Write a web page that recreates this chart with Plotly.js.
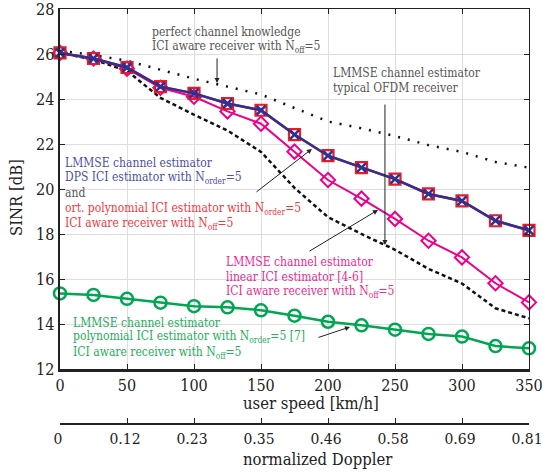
<!DOCTYPE html>
<html>
<head>
<meta charset="utf-8">
<script src="https://cdn.plot.ly/plotly-3.0.1.min.js"></script>
<style>html,body{margin:0;padding:0;background:#fff;}#chart{width:543px;height:472px;}</style>
</head>
<body>
<div id="chart"></div>
<script>
// ---- data ----
const speed = [0, 25, 50, 75, 100, 125, 150, 175, 200, 225, 250, 275, 300, 325, 350];
const perfectKnowledge = [26.15, 25.95, 25.7, 25.3, 24.9, 24.55, 24.2, 23.6, 23.0, 22.7, 22.35, 21.95, 21.65, 21.2, 20.95];
const typicalOFDM = [26.05, 25.75, 25.25, 24.05, 23.3, 22.6, 21.65, 20.05, 18.75, 18.0, 17.3, 16.45, 15.8, 14.7, 14.25];
const dpsICI = [26.05, 25.8, 25.4, 24.55, 24.25, 23.8, 23.5, 22.42, 21.48, 20.95, 20.44, 19.78, 19.47, 18.59, 18.16];
const ortPolyICI = [26.05, 25.8, 25.4, 24.55, 24.25, 23.8, 23.5, 22.42, 21.48, 20.95, 20.44, 19.78, 19.47, 18.59, 18.16];
const linearICI = [26.05, 25.8, 25.35, 24.5, 24.1, 23.45, 22.9, 21.66, 20.4, 19.57, 18.67, 17.7, 16.96, 15.81, 14.96];
const polyICI = [15.36, 15.29, 15.12, 14.95, 14.79, 14.74, 14.61, 14.37, 14.1, 13.94, 13.75, 13.56, 13.44, 13.02, 12.92];
const speedTicks = [0, 50, 100, 150, 200, 250, 300, 350];
const dopplerTickText = ['0', '0.12', '0.23', '0.35', '0.46', '0.58', '0.69', '0.81'];
const sinrTicks = [12, 14, 16, 18, 20, 22, 24, 26, 28];

const FONT = 'DejaVu Serif Condensed, DejaVu Serif';
const BLUE = '#2e3192', RED = '#ed1c24', MAG = '#ec008c', GREEN = '#00a651';

const traces = [
  {x: speed, y: perfectKnowledge, mode: 'lines', line: {color: '#111', width: 2.5, dash: '2px,8px'}, cliponaxis: false},
  {x: speed, y: typicalOFDM, mode: 'lines', line: {color: '#111', width: 2.5, dash: '4px,3px'}, cliponaxis: false},
  {x: speed, y: polyICI, mode: 'lines+markers', line: {color: GREEN, width: 2.5},
   marker: {symbol: 'circle-open', size: 12, color: GREEN, line: {width: 2.5, color: GREEN}}, cliponaxis: false},
  {x: speed, y: linearICI, mode: 'lines+markers', line: {color: MAG, width: 2},
   marker: {symbol: 'diamond-open', size: 11, color: MAG, line: {width: 2, color: MAG}}, cliponaxis: false},
  {x: speed, y: ortPolyICI, mode: 'lines+markers', line: {color: RED, width: 2.5},
   marker: {symbol: 'square-open', size: 11, color: RED, line: {width: 2.2, color: RED}}, cliponaxis: false},
  {x: speed, y: dpsICI, mode: 'lines+markers', line: {color: BLUE, width: 2.5},
   marker: {symbol: 'x-thin-open', size: 9, color: BLUE, line: {width: 2.5, color: BLUE}}, cliponaxis: false},
  // dummy traces for secondary axes
  {x: [null], y: [null], xaxis: 'x2', yaxis: 'y', hoverinfo: 'skip'},
  {x: [null], y: [null], xaxis: 'x3', yaxis: 'y3', hoverinfo: 'skip'}
];

function txt(x, y, text, color) {
  return {x: x, y: y, xref: 'x', yref: 'y', text: text, showarrow: false, xanchor: 'left', yanchor: 'middle',
          font: {family: FONT, size: 12, color: color}};
}
function arr(x0, y0, x1, y1) {
  return {x: x1, y: y1, ax: x0, ay: y0, xref: 'x', yref: 'y', axref: 'x', ayref: 'y', text: '',
          showarrow: true, arrowhead: 2, arrowsize: 1, arrowwidth: 1, arrowcolor: '#222'};
}
const GRAY = '#555', TB = '#4d4fa8', TR = '#ee3a3f', TM = '#ec2a94', TG = '#25ad5c';
const titleFont = {family: FONT, size: 16.5, color: '#222'};

const annotations = [
  txt(67.5, 26.98, 'perfect channel knowledge', GRAY),
  txt(67.5, 26.31, 'ICI aware receiver with N<sub>off</sub>=5', GRAY),
  arr(117.2, 25.87, 117.2, 24.71),
  txt(202.5, 25.16, 'LMMSE channel estimator', GRAY),
  txt(202.5, 24.49, 'typical OFDM receiver', GRAY),
  arr(242.5, 23.82, 242.5, 17.51),
  txt(2.5, 21.16, 'LMMSE channel estimator', TB),
  txt(2.5, 20.49, 'DPS ICI estimator with N<sub>order</sub>=5', TB),
  txt(2.5, 19.82, 'and', GRAY),
  txt(2.5, 19.11, 'ort. polynomial ICI estimator with N<sub>order</sub>=5', TR),
  txt(2.5, 18.44, 'ICI aware receiver with N<sub>off</sub>=5', TR),
  arr(145.5, 19.82, 188, 21.78),
  txt(122.5, 16.76, 'LMMSE channel estimator', TM),
  txt(122.5, 16.09, 'linear ICI estimator [4-6]', TM),
  txt(122.5, 15.42, 'ICI aware receiver with N<sub>off</sub>=5', TM),
  arr(185.1, 17.2, 237.3, 19.07),
  txt(8.5, 14.04, 'LMMSE channel estimator', TG),
  txt(8.5, 13.42, 'polynomial ICI estimator with N<sub>order</sub>=5 [7]', TG),
  txt(8.5, 12.71, 'ICI aware receiver with N<sub>off</sub>=5', TG),
  arr(191.8, 13.38, 216.4, 13.87),
  // axis titles
  {xref: 'paper', yref: 'paper', x: 0.535, y: 0.0506, text: 'user speed [km/h]', showarrow: false,
   xanchor: 'center', yanchor: 'middle', font: titleFont},
  {xref: 'paper', yref: 'paper', x: 0.55, y: -0.0867, text: 'normalized Doppler', showarrow: false,
   xanchor: 'center', yanchor: 'middle', font: titleFont},
  {xref: 'paper', yref: 'paper', x: -0.0917, y: 0.547, text: 'SINR [dB]', showarrow: false, textangle: -90,
   xanchor: 'center', yanchor: 'middle', font: titleFont}
];

const tickFont = {family: FONT, size: 16, color: '#222'};
const tickFont2 = {family: FONT, size: 15.5, color: '#222'};
const yDomStart = (424 - 369) / 415;

const layout = {
  width: 543, height: 472,
  margin: {l: 60, r: 14, t: 9, b: 48},
  paper_bgcolor: '#fff', plot_bgcolor: '#fff',
  showlegend: false,
  font: {family: FONT},
  xaxis: {range: [0, 350], tickvals: speedTicks, ticks: 'inside', ticklen: 5, tickcolor: '#222',
          showline: true, linewidth: 2.5, linecolor: '#222', showgrid: true, gridcolor: '#dedede', gridwidth: 1,
          zeroline: false, tickfont: tickFont, anchor: 'y', ticklabeloverflow: 'allow'},
  xaxis2: {range: [0, 350], overlaying: 'x', anchor: 'free', position: 0, side: 'bottom',
           tickvals: speedTicks, ticktext: dopplerTickText, ticks: 'inside', ticklen: 5, tickcolor: '#222',
           showline: true, linewidth: 2, linecolor: '#222', showgrid: false, zeroline: false, tickfont: tickFont2,
           ticklabeloverflow: 'allow', ticklabelshift: -2},
  xaxis3: {range: [0, 350], overlaying: 'x', anchor: 'y3', side: 'top', tickvals: speedTicks, ticks: 'inside',
           ticklen: 5, tickcolor: '#222', showticklabels: false, showline: true, linewidth: 1.2, linecolor: '#222',
           showgrid: false, zeroline: false},
  yaxis: {range: [12, 28], domain: [yDomStart, 1], tickvals: sinrTicks, ticks: 'inside', ticklen: 5, tickcolor: '#222',
          showline: true, linewidth: 2.5, linecolor: '#222', showgrid: true, gridcolor: '#dedede', gridwidth: 1,
          zeroline: false, tickfont: tickFont, ticklabeloverflow: 'allow'},
  yaxis3: {range: [12, 28], domain: [yDomStart, 1], overlaying: 'y', anchor: 'x3', side: 'right', tickvals: sinrTicks,
           ticks: 'inside', ticklen: 5, tickcolor: '#222', showticklabels: false, showline: true, linewidth: 1.2,
           linecolor: '#222', showgrid: false, zeroline: false},
  annotations: annotations
};

Plotly.newPlot('chart', traces, layout, {displayModeBar: false, staticPlot: true});
</script>
</body>
</html>
